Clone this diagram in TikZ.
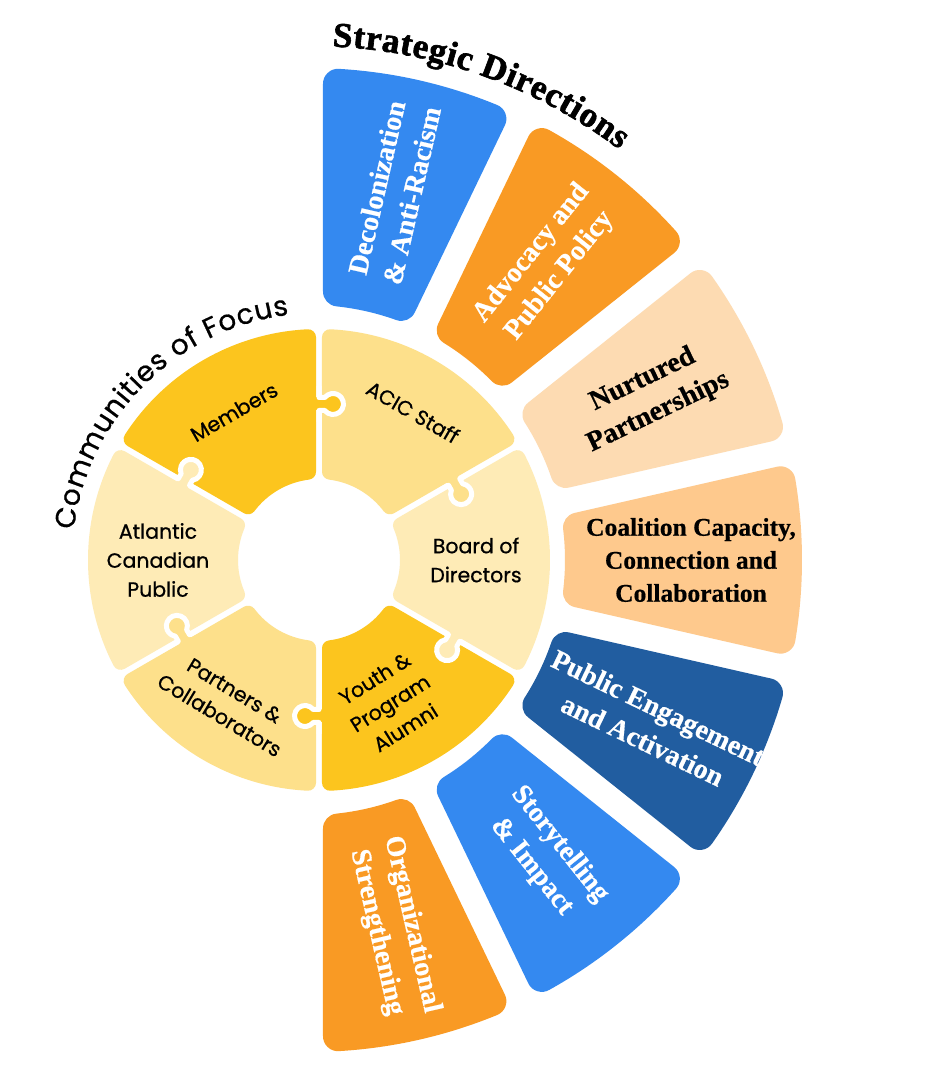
\documentclass[tikz,border=0pt]{standalone}
\usepackage{fontspec}
\usetikzlibrary{decorations.text}
\newfontfamily\pop{Poppins}[FakeBold=0.7]
\newfontfamily\lsb{Liberation Serif}[BoldFeatures={FakeBold=0.6}]
\newfontfamily\lsbh{Liberation Serif}[BoldFeatures={FakeBold=1.8}]
\definecolor{dyel}{HTML}{FCC51E}
\definecolor{myel}{HTML}{FDE08B}
\definecolor{lyel}{HTML}{FEEBB6}
\definecolor{sblue}{HTML}{3489F0}
\definecolor{sorange}{HTML}{F99A24}
\definecolor{speach}{HTML}{FDDBB2}
\definecolor{sapri}{HTML}{FEC98D}
\definecolor{snavy}{HTML}{215DA0}
% rounded annular sector: colour, angle low, angle high, r in, r out, half gap, corner radius
\newcommand{\rsec}[7]{%
  \pgfmathsetmacro\sRo{#5-#7}%
  \pgfmathsetmacro\sRi{#4+#7}%
  \pgfmathsetmacro\sEe{#6+#7}%
  \pgfmathsetmacro\sAo{asin(\sEe/\sRo)}%
  \pgfmathsetmacro\sAi{asin(\sEe/\sRi)}%
  \pgfmathsetmacro\sTA{#2+\sAo}\pgfmathsetmacro\sTB{#3-\sAo}%
  \pgfmathsetmacro\sTC{#3-\sAi}\pgfmathsetmacro\sTD{#2+\sAi}%
  \pgfmathsetmacro\sLw{2*#7}%
  \fill[#1, draw=#1, line width=\sLw pt, line join=round]
    (\sTA:\sRo) arc[start angle=\sTA, end angle=\sTB, radius=\sRo]
    -- (\sTC:\sRi) arc[start angle=\sTC, end angle=\sTD, radius=\sRi] -- cycle;
}
% puzzle knob: owner colour, boundary angle
\newcommand{\knob}[2]{%
  \begin{scope}[rotate=#2]
    \fill[#1] (149.5,3.5) rectangle (162.5,-14);
    \fill[#1] (156,-14) circle[radius=10.5];
    \draw[white, line width=5pt, line join=round]
      (138,0) -- (149.5,0) -- (149.5,-5.75)
      arc[start angle=128.25, end angle=411.75, radius=10.5]
      -- (162.5,0) -- (174,0);
  \end{scope}}
\tikzset{
  seglabel/.style={font=\lsb\bfseries\fontsize{28}{36}\selectfont, align=center, text=white},
  innerlabel/.style={font=\pop\fontsize{20.5}{29}\selectfont, align=center, text=black},
}
\begin{document}
\begin{tikzpicture}[x=1pt,y=1pt]
\useasboundingbox (0,0) rectangle (925,1076);
\fill[white] (0,0) rectangle (925,1076);

% ---------- outer ring: strategic directions ----------
\begin{scope}[shift={(310,516)}]
  \rsec{sblue}{64.286}{90}{255}{492}{13}{15}
  \rsec{sorange}{38.571}{64.286}{255}{492}{13}{15}
  \rsec{speach}{12.857}{38.571}{255}{492}{13}{15}
  \rsec{sapri}{-12.857}{12.857}{255}{492}{13}{15}
  \rsec{snavy}{-38.571}{-12.857}{255}{492}{13}{15}
  \rsec{sblue}{-64.286}{-38.571}{255}{492}{13}{15}
  \rsec{sorange}{-90}{-64.286}{255}{492}{13}{15}

  \node[seglabel, rotate=77.14] (dec) at (77.14:378) {Decolonization\\\& Anti-Racism};
  \node[seglabel, rotate=51.43] (adv) at (51.43:378) {Advocacy and\\Public Policy};
  \node[seglabel, text=black, rotate=25.71] (nur) at (25.71:378) {Nurtured\\Partnerships};
  \node[seglabel, text=black, font=\lsb\bfseries\fontsize{25.5}{33}\selectfont] (coa) at (0:381) {Coalition Capacity,\\Connection and\\Collaboration};
  \node[seglabel, rotate=-25.71] (pub) at (-25.71:378) {Public Engagement\\and Activation};
  \node[seglabel, rotate=-51.43] (sto) at (-51.43:378) {Storytelling\\\& Impact};
  \node[seglabel, rotate=-77.14] (org) at (-77.14:378) {Organizational\\Strengthening};

  \path[decorate, decoration={text along path, text align=fit to path,
      text={|\lsbh\bfseries\fontsize{35}{35}\selectfont|Strategic Directions}}]
    (87.5:514) arc[start angle=87.5, end angle=53, radius=514];
\end{scope}

% ---------- inner ring: communities of focus ----------
\begin{scope}[shift={(319,516)}]
  \rsec{dyel}{90}{150}{81}{231}{3}{8}
  \rsec{myel}{30}{90}{81}{231}{3}{8}
  \rsec{lyel}{-30}{30}{81}{231}{3}{8}
  \rsec{dyel}{-90}{-30}{81}{231}{3}{8}
  \rsec{myel}{210}{270}{81}{231}{3}{8}
  \rsec{lyel}{150}{210}{81}{231}{3}{8}

  \knob{dyel}{90}
  \knob{myel}{30}
  \knob{lyel}{-30}
  \knob{dyel}{-90}
  \knob{myel}{210}
  \knob{lyel}{150}

  \node[innerlabel, rotate=30] (mem) at (-85,148) {Members};
  \node[innerlabel, rotate=-30] (acic) at (94,148) {ACIC Staff};
  \node[innerlabel] (board) at (157,0) {Board of\\Directors};
  \node[innerlabel, rotate=32] (youth) at (71,-143) {Youth \&\\Program\\Alumni};
  \node[innerlabel, rotate=-31] (part) at (-92,-143) {Partners \&\\Collaborators};
  \node[innerlabel] (atl) at (-161,0) {Atlantic\\Canadian\\Public};

  \path[decorate, decoration={text along path, text align=fit to path,
      text={|\pop\fontsize{28}{28}\selectfont|Communities of Focus}}]
    (173:247) arc[start angle=173, end angle=97, radius=247];
\end{scope}
\end{tikzpicture}
\end{document}
